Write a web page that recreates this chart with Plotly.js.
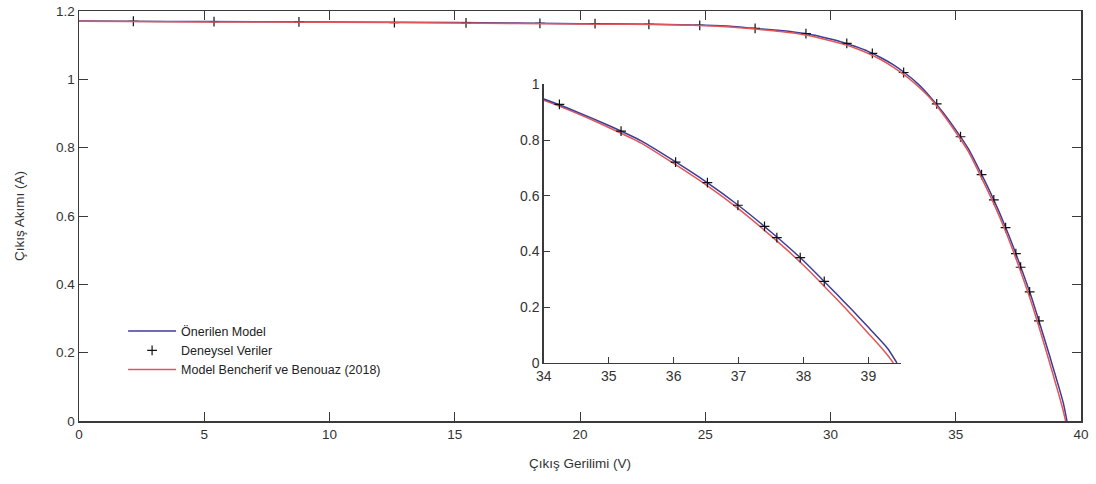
<!DOCTYPE html>
<html>
<head>
<meta charset="utf-8">
<script src="https://cdn.plot.ly/plotly-3.0.1.min.js"></script>
<style>html,body{margin:0;padding:0;background:#fff;}#chart{width:1096px;height:484px;}</style>
</head>
<body>
<div id="chart"></div>
<script>
// Measured I-V points of the PV module
const measV = [2.17, 5.39, 8.78, 12.59, 15.45, 18.40, 20.60, 22.75, 24.78, 26.99, 29.02, 30.65, 31.67, 32.92, 34.24, 35.19, 36.03, 36.52, 36.99, 37.40, 37.59, 37.95, 38.32];
const measI = [1.170, 1.169, 1.168, 1.166, 1.165, 1.164, 1.163, 1.161, 1.158, 1.149, 1.134, 1.105, 1.076, 1.020, 0.928, 0.832, 0.721, 0.647, 0.566, 0.490, 0.450, 0.378, 0.293];

// Proposed model curve
const propV = [0, 2, 5, 10, 15, 20, 22, 24, 25, 26, 27, 28, 29, 30, 30.5, 31, 31.5, 32, 32.5, 33, 33.5, 34, 34.5, 35, 35.5, 36, 36.5, 37, 37.5, 38, 38.5, 38.75, 39, 39.1, 39.2, 39.3, 39.44];
const propI = [1.171, 1.170, 1.169, 1.168, 1.166, 1.163, 1.162, 1.160, 1.158, 1.155, 1.149, 1.143, 1.134, 1.118, 1.108, 1.096, 1.082, 1.064, 1.043, 1.017, 0.986, 0.947, 0.902, 0.852, 0.797, 0.726, 0.650, 0.565, 0.470, 0.367, 0.250, 0.190, 0.128, 0.103, 0.078, 0.051, 0.0];

// Bencherif & Benouaz (2018) model curve
const benV = [0, 2, 5, 10, 15, 20, 22, 24, 25, 26, 27, 28, 29, 30, 30.5, 31, 31.5, 32, 32.5, 33, 33.5, 34, 34.5, 35, 35.5, 36, 36.5, 37, 37.5, 38, 38.5, 38.75, 39, 39.1, 39.2, 39.3, 39.385];
const benI = [1.170, 1.169, 1.168, 1.167, 1.165, 1.162, 1.161, 1.159, 1.157, 1.153, 1.147, 1.140, 1.130, 1.113, 1.103, 1.091, 1.076, 1.058, 1.036, 1.010, 0.979, 0.943, 0.897, 0.845, 0.789, 0.716, 0.639, 0.553, 0.456, 0.351, 0.232, 0.170, 0.106, 0.081, 0.055, 0.027, 0.0];

const legendNames = ['Önerilen Model', 'Deneysel Veriler', 'Model Bencherif ve Benouaz (2018)'];
const xTitle = 'Çıkış Gerilimi (V)';
const yTitle = 'Çıkış Akımı (A)';

const blue = '#3c3c96';
const red = '#e0565a';
const axisCol = '#3a3a3a';
const font = 'Liberation Sans, Arial, sans-serif';

const markerStyle = {symbol: 'cross-thin', size: 7, color: '#111', line: {width: 1.2, color: '#111'}};
const curve = (c) => ({color: c, width: 1.5, shape: 'spline', smoothing: 0.6});

const traces = [
  {x: propV, y: propI, mode: 'lines', name: legendNames[0], line: curve(blue), xaxis: 'x', yaxis: 'y'},
  {x: measV, y: measI, mode: 'markers', name: legendNames[1], marker: markerStyle, xaxis: 'x', yaxis: 'y'},
  {x: benV, y: benI, mode: 'lines', name: legendNames[2], line: curve(red), xaxis: 'x', yaxis: 'y'},
  // zoomed view of the knee region
  {x: benV, y: benI, mode: 'lines', showlegend: false, line: curve(red), xaxis: 'x2', yaxis: 'y2'},
  {x: propV, y: propI, mode: 'lines', showlegend: false, line: curve(blue), xaxis: 'x2', yaxis: 'y2'},
  {x: measV, y: measI, mode: 'markers', showlegend: false, marker: markerStyle, xaxis: 'x2', yaxis: 'y2'}
];

const layout = {
  width: 1096, height: 484,
  margin: {l: 79, r: 15, t: 11, b: 63},
  paper_bgcolor: '#fff', plot_bgcolor: '#fff',
  font: {family: font, size: 13, color: '#333'},
  showlegend: true,
  legend: {x: 0.044, y: 0.255, xanchor: 'left', yanchor: 'top', bgcolor: 'rgba(0,0,0,0)',
           font: {family: font, size: 12.5, color: '#222'}, itemwidth: 48, tracegroupgap: 0},
  xaxis: {domain: [0, 1], range: [0, 40], dtick: 5, tick0: 0, ticks: 'inside', ticklen: 9, tickcolor: axisCol,
          showline: true, linecolor: axisCol, linewidth: 1.5, mirror: 'ticks', showgrid: false, zeroline: false,
          tickfont: {size: 13.5, color: '#333'},
          title: {text: xTitle, font: {size: 13.5, color: '#333'}, standoff: 18}},
  yaxis: {domain: [0, 1], range: [0, 1.2], dtick: 0.2, tick0: 0, ticks: 'inside', ticklen: 9, tickcolor: axisCol,
          showline: true, linecolor: axisCol, linewidth: 1.5, mirror: 'ticks', showgrid: false, zeroline: false,
          tickfont: {size: 13.5, color: '#333'},
          title: {text: yTitle, font: {size: 13.5, color: '#333'}, standoff: 28}},
  xaxis2: {anchor: 'y2', domain: [0.4639, 0.8202], range: [34, 39.5], dtick: 1, tick0: 34, ticks: 'inside', ticklen: 6,
           tickcolor: axisCol, showline: true, linecolor: axisCol, linewidth: 1.5, showgrid: false, zeroline: false,
           tickfont: {size: 14, color: '#333'}},
  yaxis2: {anchor: 'x2', domain: [0.1415, 0.8212], range: [0, 1], dtick: 0.2, tick0: 0, ticks: 'inside', ticklen: 6,
           tickcolor: axisCol, showline: true, linecolor: axisCol, linewidth: 1.5, showgrid: false, zeroline: false,
           tickfont: {size: 14, color: '#333'}}
};

Plotly.newPlot('chart', traces, layout, {staticPlot: true, displayModeBar: false});
</script>
</body>
</html>
